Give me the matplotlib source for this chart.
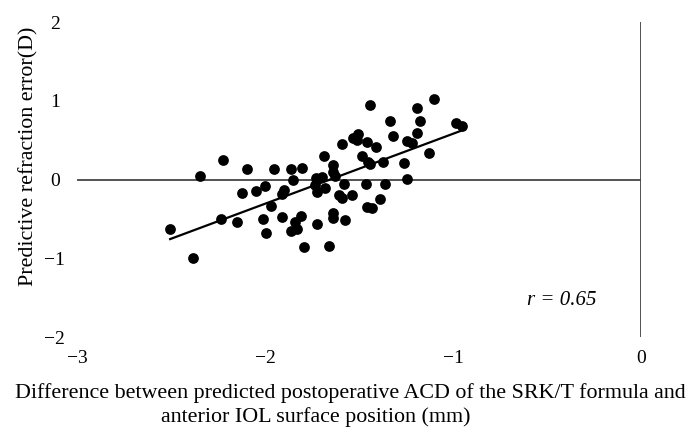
import numpy as np
import matplotlib
matplotlib.use("Agg")
import matplotlib.pyplot as plt

plt.rcParams['font.family'] = ['Liberation Serif', 'DejaVu Serif']

# ACD difference (mm) vs predictive refraction error (D)
acd_diff = [
    -2.225, -2.346, -2.098, -1.953, -1.862, -1.806, -1.850, -2.124, -2.050, -1.999,
    -1.898, -1.912, -1.970, -2.236, -2.151, -2.010, -1.910, -1.811, -1.841, -1.997,
    -1.864, -1.832, -2.505, -2.382, -1.792, -1.726,
    -1.443, -1.103, -1.191, -1.177, -1.336, -0.986, -0.955, -1.191, -1.322, -1.531,
    -1.505, -1.513, -1.460, -1.411, -1.244, -1.221, -1.593, -1.128, -1.687, -1.487,
    -1.443, -1.452, -1.375, -1.262, -1.638, -1.638, -1.730, -1.699, -1.629, -1.735,
    -1.682, -1.726, -1.580, -1.464, -1.361, -1.244, -1.606, -1.540, -1.593, -1.389,
    -1.460, -1.434, -1.641, -1.641, -1.575, -1.659,
]
refr_err = [
    0.246, 0.043, 0.128, 0.128, 0.128, 0.149, -0.008, -0.169, -0.143, -0.084,
    -0.135, -0.185, -0.338, -0.507, -0.541, -0.499, -0.474, -0.465, -0.537, -0.677,
    -0.651, -0.634, -0.630, -0.994, -0.862, -0.566,
    0.945, 1.017, 0.903, 0.745, 0.742, 0.712, 0.678, 0.593, 0.555, 0.530,
    0.577, 0.500, 0.471, 0.408, 0.491, 0.466, 0.446, 0.339, 0.297, 0.297,
    0.196, 0.225, 0.225, 0.204, 0.183, 0.098, 0.014, 0.027, 0.043, -0.071,
    -0.113, -0.156, -0.058, -0.062, -0.058, 0.001, -0.198, -0.198, -0.240, -0.253,
    -0.354, -0.367, -0.423, -0.494, -0.516, -0.846,
]
r_text = "r = 0.65"
xticks = [-3, -2, -1, 0]
yticks = [-2, -1, 0, 1, 2]
xlabel_lines = ["Difference between predicted postoperative ACD of the SRK/T formula and",
                "anterior IOL surface position (mm)"]
ylabel = "Predictive refraction error(D)"


def fmt(t):
    return '\u2212' + str(abs(t)) if t < 0 else str(t)


x = np.array(acd_diff)
y = np.array(refr_err)

fig = plt.figure(figsize=(6.97, 4.40), dpi=100)
ax = fig.add_axes([0.1105, 0.234, 0.8095, 0.716])

ax.scatter(x, y, s=60, color='black', zorder=3, linewidths=0)

# linear trend line
k, b = np.polyfit(x, y, 1)
xs = np.array([x.min(), x.max()])
ax.plot(xs, k * xs + b, color='black', lw=1.6, zorder=2)

# axes crossing at zero, Excel style
ax.axhline(0, color='#444444', lw=1.3, zorder=1)
ax.axvline(0, color='#444444', lw=1.3, zorder=1)

ax.set_xlim(-3, 0)
ax.set_ylim(-2, 2)
ax.set_xticks(xticks)
ax.set_yticks(yticks)
ax.set_xticklabels([fmt(t) for t in xticks])
ax.set_yticklabels([fmt(t) for t in yticks], ha='center')
ax.tick_params(length=0, labelsize=14)
ax.tick_params(axis='x', pad=9)
ax.tick_params(axis='y', pad=16)
for s in ax.spines.values():
    s.set_visible(False)

ax.text(-0.42, -1.54, r_text, style='italic', fontsize=15, ha='center', va='center')

fig.text(350 / 697, 0.0948, xlabel_lines[0], ha='center', va='baseline', fontsize=15.8)
fig.text(316 / 697, 0.0416, xlabel_lines[1], ha='center', va='baseline', fontsize=15.8)
fig.text(0.041, 1 - 156 / 440, ylabel, rotation=90,
         ha='center', va='center', fontsize=15.8)

fig.savefig("out.png", dpi=100)
